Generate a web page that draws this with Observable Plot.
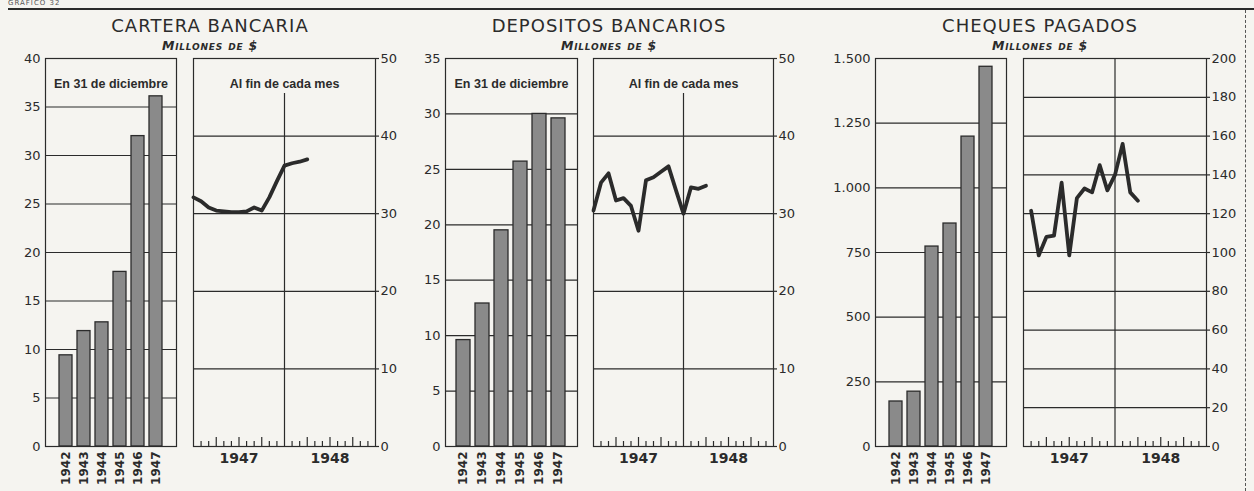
<!DOCTYPE html>
<html><head><meta charset="utf-8">
<script src="https://cdn.jsdelivr.net/npm/d3@7"></script>
<script src="https://cdn.jsdelivr.net/npm/@observablehq/plot@0.6"></script>
<style>
html,body{margin:0;padding:0;background:#f5f4f0;}
#root{position:relative;width:1254px;height:491px;overflow:hidden;background:#f5f4f0;font-family:"DejaVu Sans",sans-serif;color:#2b2b2b;}
.title{position:absolute;top:17px;font-size:18px;line-height:1;letter-spacing:1px;transform:translateX(-50%);white-space:nowrap;}
.sub{position:absolute;top:40px;font-size:12.5px;line-height:1;font-style:italic;font-weight:bold;font-variant:small-caps;letter-spacing:0.8px;transform:translateX(-50%);white-space:nowrap;}
.chart{position:absolute;top:48px;}
</style>
</head><body><div id="root"></div>
<script>
// ---- data ----
const barYears = ["1942", "1943", "1944", "1945", "1946", "1947"];
const carteraAnual = [9.4, 11.9, 12.8, 18.0, 32.0, 36.1];
const depositosAnual = [9.6, 12.9, 19.5, 25.7, 30.0, 29.6];
const chequesAnual = [174, 212, 773, 862, 1198, 1468];

// month index: 0 = start of 1947, 12 = start of 1948, 24 = end of 1948
const carteraMeses = [0, 1, 2, 3, 4, 5, 6, 7, 8, 9, 10, 11, 12, 13, 14, 15];
const carteraMensual = [32.1, 31.6, 30.8, 30.4, 30.3, 30.2, 30.2, 30.3, 30.8, 30.4, 32.1, 34.2, 36.2, 36.5, 36.7, 37.0];
const depositosMeses = [0, 1, 2, 3, 4, 5, 6, 7, 8, 9, 10, 11, 12, 13, 14, 15];
const depositosMensual = [30.4, 34.0, 35.2, 31.7, 32.0, 31.0, 27.8, 34.3, 34.7, 35.4, 36.1, 33.0, 30.0, 33.4, 33.2, 33.6];
const chequesMeses = [1, 2, 3, 4, 5, 6, 7, 8, 9, 10, 11, 12, 13, 14, 15];
const chequesMensual = [121.5, 98.5, 108, 108.7, 136, 98.5, 128, 133, 131, 145, 132, 140, 156, 131, 126.7];

const titles = ["CARTERA BANCARIA", "DEPOSITOS BANCARIOS", "CHEQUES PAGADOS"];
const unitLabel = "Millones de $";
const barSubtitle = "En 31 de diciembre";
const lineSubtitles = ["Al fin de cada mes", "Al fin de cada mes", null];
const chartNumber = "GRAFICO 32";

const carteraTicks = [0, 5, 10, 15, 20, 25, 30, 35, 40];
const depositosTicks = [0, 5, 10, 15, 20, 25, 30, 35];
const chequesTicks = [0, 250, 500, 750, 1000, 1250, 1500];
const mensualTicks = [0, 10, 20, 30, 40, 50];
const chequesMensualTicks = [0, 20, 40, 60, 80, 100, 120, 140, 160, 180, 200];

const monthTicksShort = [1, 2, 4, 5, 7, 8, 10, 11, 13, 14, 16, 17, 19, 20, 22, 23];
const monthTicksLong = [3, 6, 9, 15, 18, 21];
const yearBoundary = [12];
const yearPositions = [6, 18];
const yearLabels = ["1947", "1948"];

// ---- style ----
const INK = "#2b2b2b";
const BAR = "#8a8a8a";
const FONT = "DejaVu Sans";
const NOTE_FONT = "Liberation Sans";
const root = document.getElementById("root");

function add(el, left) { el.classList.add("chart"); el.style.left = left + "px"; root.appendChild(el); }
const dotFmt = d => d3.format(",")(d).replace(/,/g, ".");

function barChart(values, ticks, fmt, subtitle, frameLeft, frameWidth) {
  const mL = 50, mR = 4;
  const rows = barYears.map((y, i) => ({year: y, value: values[i]}));
  const el = Plot.plot({
    width: mL + frameWidth + mR, height: 443,
    marginLeft: mL, marginRight: mR, marginTop: 10, marginBottom: 45,
    style: {background: "transparent", fontFamily: FONT, fontSize: "13px", color: INK},
    x: {type: "band", domain: barYears, paddingInner: 0.26, paddingOuter: 0.58, label: null},
    y: {domain: [ticks[0], ticks[ticks.length - 1]], label: null},
    marks: [
      Plot.gridY(ticks.slice(1, -1), {stroke: INK, strokeOpacity: 1, strokeWidth: 1.2}),
      Plot.barY(rows, {x: "year", y: "value", fill: BAR, stroke: INK, strokeWidth: 1.3}),
      Plot.frame({stroke: INK, strokeWidth: 1.2}),
      Plot.axisY({ticks, tickSize: 0, tickPadding: 5, tickFormat: fmt, label: null, fontSize: 13}),
      Plot.axisX({tickSize: 0, tickRotate: -90, tickPadding: 5, label: null, fontWeight: "bold", fontSize: 12}),
      subtitle ? Plot.text([subtitle], {frameAnchor: "top", dy: 21, fontSize: 12.5, fontWeight: "bold", fontFamily: NOTE_FONT, fill: INK}) : null
    ]
  });
  add(el, frameLeft - mL);
}

function lineChart(months, values, ticks, subtitle, ruleInset, frameLeft, frameWidth) {
  const mL = 4, mR = 42;
  const rows = months.map((m, i) => ({mes: m, valor: values[i]}));
  const el = Plot.plot({
    width: mL + frameWidth + mR, height: 443,
    marginLeft: mL, marginRight: mR, marginTop: 10, marginBottom: 45,
    style: {background: "transparent", fontFamily: FONT, fontSize: "13px", color: INK},
    x: {domain: [0, 24], label: null},
    y: {domain: [ticks[0], ticks[ticks.length - 1]], label: null},
    marks: [
      Plot.gridY(ticks.slice(1, -1), {stroke: INK, strokeOpacity: 1, strokeWidth: 1.2}),
      Plot.ruleX(yearBoundary, {stroke: INK, strokeWidth: 1.2, insetTop: ruleInset}),
      Plot.frame({stroke: INK, strokeWidth: 1.2}),
      Plot.axisX({ticks: monthTicksShort, tickSize: -5, tickFormat: () => "", label: null, strokeWidth: 1.2}),
      Plot.axisX({ticks: monthTicksLong, tickSize: -9, tickFormat: () => "", label: null, strokeWidth: 1.2}),
      Plot.axisX({ticks: yearPositions, tickSize: 0, tickPadding: 7, tickFormat: d => yearLabels[yearPositions.indexOf(d)], label: null, fontWeight: "bold", fontSize: 14}),
      Plot.axisY({anchor: "right", ticks, tickSize: 3, tickPadding: 2, label: null, fontSize: 13, strokeWidth: 1.2}),
      Plot.line(rows, {x: "mes", y: "valor", stroke: INK, strokeWidth: 3.8, strokeLinejoin: "round", strokeLinecap: "round"}),
      subtitle ? Plot.text([subtitle], {frameAnchor: "top", dy: 21, fontSize: 12.5, fontWeight: "bold", fontFamily: NOTE_FONT, fill: INK}) : null
    ]
  });
  add(el, frameLeft - mL);
}

// panels
barChart(carteraAnual, carteraTicks, d => String(d), barSubtitle, 45, 131);
lineChart(carteraMeses, carteraMensual, mensualTicks, lineSubtitles[0], 35, 193, 182);
barChart(depositosAnual, depositosTicks, d => String(d), barSubtitle, 445, 132);
lineChart(depositosMeses, depositosMensual, mensualTicks, lineSubtitles[1], 35, 593, 180);
barChart(chequesAnual, chequesTicks, dotFmt, null, 875, 131);
lineChart(chequesMeses, chequesMensual, chequesMensualTicks, lineSubtitles[2], 0, 1023, 183);

// titles
const centers = [210, 609, 1040];
titles.forEach((t, i) => {
  const d = document.createElement("div"); d.className = "title"; d.textContent = t; d.style.left = centers[i] + "px"; root.appendChild(d);
  const s = document.createElement("div"); s.className = "sub"; s.textContent = unitLabel; s.style.left = centers[i] + "px"; root.appendChild(s);
});

// page furniture: header rule, chart number, right border
const rule = document.createElement("div");
rule.style.cssText = "position:absolute;left:8px;top:8px;width:1246px;height:2px;background:#2b2b2b;";
root.appendChild(rule);
const num = document.createElement("div");
num.textContent = chartNumber;
num.style.cssText = "position:absolute;left:8px;top:0px;font-size:7px;line-height:7px;letter-spacing:1px;color:#555;";
root.appendChild(num);
const side = document.createElement("div");
side.style.cssText = "position:absolute;left:1245px;top:10px;height:481px;border-left:1.5px dashed #555;";
root.appendChild(side);
</script></body></html>
